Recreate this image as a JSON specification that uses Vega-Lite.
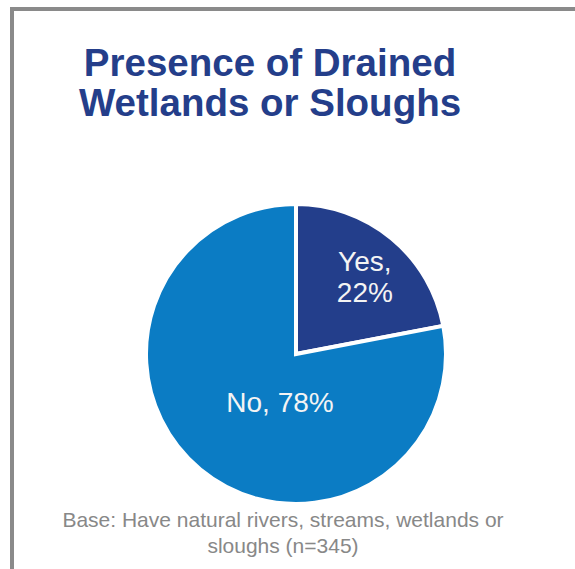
{
  "$schema": "https://vega.github.io/schema/vega-lite/v6.json",
  "usermeta": {"embedOptions": {"actions": false}},
  "autosize": {"type": "none"},
  "width": 568,
  "height": 690,
  "padding": {"left": 12, "top": 9, "right": -5, "bottom": -130},
  "background": "white",
  "view": {"stroke": "#8a8a8a", "strokeWidth": 4, "fill": "white"},
  "config": {
    "view": {"stroke": "#8a8a8a", "strokeWidth": 4},
    "font": "Liberation Sans"
  },
  "title": {
    "text": ["Presence of Drained", "Wetlands or Sloughs"],
    "font": "Liberation Sans",
    "fontSize": 38.5,
    "fontWeight": "bold",
    "color": "#243e8a",
    "anchor": "middle",
    "frame": "group",
    "offset": 0,
    "baseline": "alphabetic",
    "lineHeight": 40,
    "dx": -26,
    "dy": 145
  },
  "data": {
    "values": [
      {"answer": "Yes", "pct": 22, "label": "Yes,\n22%"},
      {"answer": "No", "pct": 78, "label": "No, 78%"}
    ]
  },
  "layer": [
    {
      "mark": {"type": "arc", "outerRadius": 150, "stroke": "white", "strokeWidth": 4},
      "encoding": {
        "theta": {"field": "pct", "type": "quantitative", "stack": true},
        "order": {"field": "answer", "sort": "descending"},
        "color": {
          "field": "answer",
          "type": "nominal",
          "scale": {"domain": ["Yes", "No"], "range": ["#233e8b", "#0b7cc4"]},
          "legend": null
        }
      }
    },
    {
      "mark": {"type": "text", "radius": 108, "fontSize": 28, "color": "#f4f4f4", "align": "center", "baseline": "alphabetic", "lineBreak": "\n", "lineHeight": 31, "font": "Liberation Sans"},
      "encoding": {
        "theta": {"field": "pct", "type": "quantitative", "stack": true},
        "order": {"field": "answer", "sort": "descending"},
        "text": {"condition": {"test": "datum.answer === 'Yes'", "field": "label"}, "value": ""}
      }
    },
    {
      "transform": [{"filter": "datum.answer === 'No'"}],
      "mark": {"type": "text", "fontSize": 28, "color": "#f4f4f4", "align": "center", "baseline": "alphabetic", "dx": -16, "dy": 58, "font": "Liberation Sans"},
      "encoding": {
        "text": {"field": "label"}
      }
    },
    {
      "data": {"values": [{"note": "Base: Have natural rivers, streams, wetlands or\nsloughs (n=345)"}]},
      "mark": {"type": "text", "fontSize": 21, "color": "#888888", "align": "center", "baseline": "alphabetic", "lineBreak": "\n", "lineHeight": 26, "dx": -13, "dy": 173, "font": "Liberation Sans"},
      "encoding": {
        "text": {"field": "note"}
      }
    }
  ]
}
